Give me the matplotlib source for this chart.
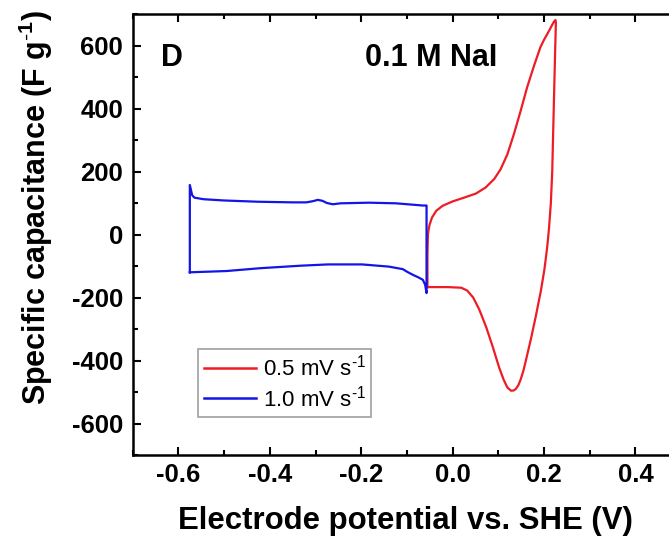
import matplotlib
matplotlib.use("Agg")
import matplotlib.pyplot as plt
from matplotlib.ticker import MultipleLocator

plt.rcParams['font.family'] = ['Liberation Sans', 'DejaVu Sans']
plt.rcParams['mathtext.fontset'] = 'custom'
plt.rcParams['mathtext.rm'] = 'Liberation Sans'
plt.rcParams['mathtext.it'] = 'Liberation Sans:italic'
plt.rcParams['mathtext.bf'] = 'Liberation Sans:bold'

# 0.5 mV/s (red) closed loop
red_x = [-0.055, -0.055, -0.054, -0.052, -0.050, -0.045, -0.036, -0.022, 0.000, 0.025, 0.051, 0.072,
         0.091, 0.105, 0.120, 0.134, 0.149, 0.163, 0.178, 0.192, 0.200, 0.207, 0.213, 0.218, 0.222, 0.225,
         0.226, 0.224, 0.221, 0.218, 0.215, 0.211, 0.207, 0.201, 0.193, 0.182, 0.171, 0.160,
         0.155, 0.149, 0.144, 0.1385, 0.134, 0.128, 0.120, 0.112, 0.102, 0.0875, 0.073, 0.058,
         0.045, 0.032, 0.019, -0.010, -0.055]
red_y = [-167, -60, 0, 20, 33, 54, 75, 91, 105, 117, 130, 149,
         176, 207, 255, 318, 393, 467, 535, 594, 618, 636, 652, 666, 676, 681,
         672, 560, 380, 200, 100, 20, -40, -110, -180, -260, -334, -402,
         -432, -460, -478, -490, -495, -496, -486, -462, -423, -355, -292, -237,
         -200, -178, -169, -167, -167]

# 1.0 mV/s (blue) closed loop
blue_x = [-0.575, -0.575, -0.575, -0.573, -0.570, -0.565, -0.545, -0.500, -0.425, -0.350, -0.320,
          -0.305, -0.295, -0.285, -0.275, -0.262, -0.245, -0.183, -0.124, -0.065, -0.057,
          -0.057, -0.060, -0.065, -0.075, -0.087, -0.100, -0.109, -0.139, -0.198, -0.273,
          -0.332, -0.421, -0.495, -0.575]
blue_y = [-120, 100, 157, 145, 125, 117, 112, 108, 104, 102, 102,
          106, 110, 107, 100, 96, 99, 101, 99, 92, 92,
          -186, -160, -144, -136, -128, -118, -110, -102, -95, -95,
          -99, -107, -116, -120]

labels = ['0.5 mV s$^{\\text{-}1}$', '1.0 mV s$^{\\text{-}1}$']

W, H = 669, 540
L, R, T, B = 132.7, 681.1, 14.0, 455.0
fig = plt.figure(figsize=(W/100, H/100), dpi=100)
ax = fig.add_axes([L/W, (H-B)/H, (R-L)/W, (B-T)/H])

ax.plot(red_x, red_y, color='#ee1c24', lw=1.6, label=labels[0])
ax.plot(blue_x, blue_y, color='#1414e6', lw=1.6, label=labels[1])

ax.set_xlim(-0.7, 0.5)
ax.set_ylim(-700, 700)
ax.xaxis.set_minor_locator(MultipleLocator(0.1))
ax.yaxis.set_minor_locator(MultipleLocator(100))
ax.set_xticks([-0.6, -0.4, -0.2, 0.0, 0.2, 0.4])
ax.set_xticklabels(['-0.6', '-0.4', '-0.2', '0.0', '0.2', '0.4'])
ax.set_yticks([-600, -400, -200, 0, 200, 400, 600])
ax.set_yticklabels(['-600', '-400', '-200', '0', '200', '400', '600'])

ax.tick_params(which='both', direction='in', top=True, right=True, width=1.5)
ax.tick_params(which='major', length=6, labelsize=18.5)
ax.tick_params(axis='x', which='major', pad=6)
ax.tick_params(axis='y', which='major', pad=7)
ax.tick_params(which='minor', length=3.5)
for lab in ax.get_xticklabels() + ax.get_yticklabels():
    lab.set_fontweight('bold')
for s in ax.spines.values():
    s.set_linewidth(1.8)

ax.set_xlabel('Electrode potential vs. SHE (V)', fontsize=22.4, fontweight='bold')
ax.set_ylabel('Specific capacitance (F g$^{\\mathbf{\\text{-}1}}$)', fontsize=22, fontweight='bold')
ax.xaxis.set_label_coords((405 - L)/(R - L), (B - 521)/(B - T))
ax.yaxis.set_label_coords((36 - L)/(R - L), (B - 207)/(B - T))
ax.xaxis.label.set_va('center')
ax.yaxis.label.set_va('center')

ax.text(172/W, 1 - 58/H, 'D', transform=fig.transFigure, fontsize=22, fontweight='bold',
        ha='center', va='center')
ax.text(431/W, 1 - 58/H, '0.1 M NaI', transform=fig.transFigure, fontsize=22, fontweight='bold',
        ha='center', va='center')

leg = ax.legend(loc='upper left', bbox_to_anchor=((198.3 - L)/(R - L), (B - 349.3)/(B - T)),
                fontsize=16, frameon=True, fancybox=False, handlelength=2.35,
                handletextpad=0.3, borderpad=0.25, labelspacing=0.2, borderaxespad=0,
                handleheight=0.7)
leg.get_frame().set_edgecolor('#888888')
leg.get_frame().set_linewidth(1.2)
for ln in leg.get_lines():
    ln.set_linewidth(1.8)

fig.savefig('out.png', dpi=100)
